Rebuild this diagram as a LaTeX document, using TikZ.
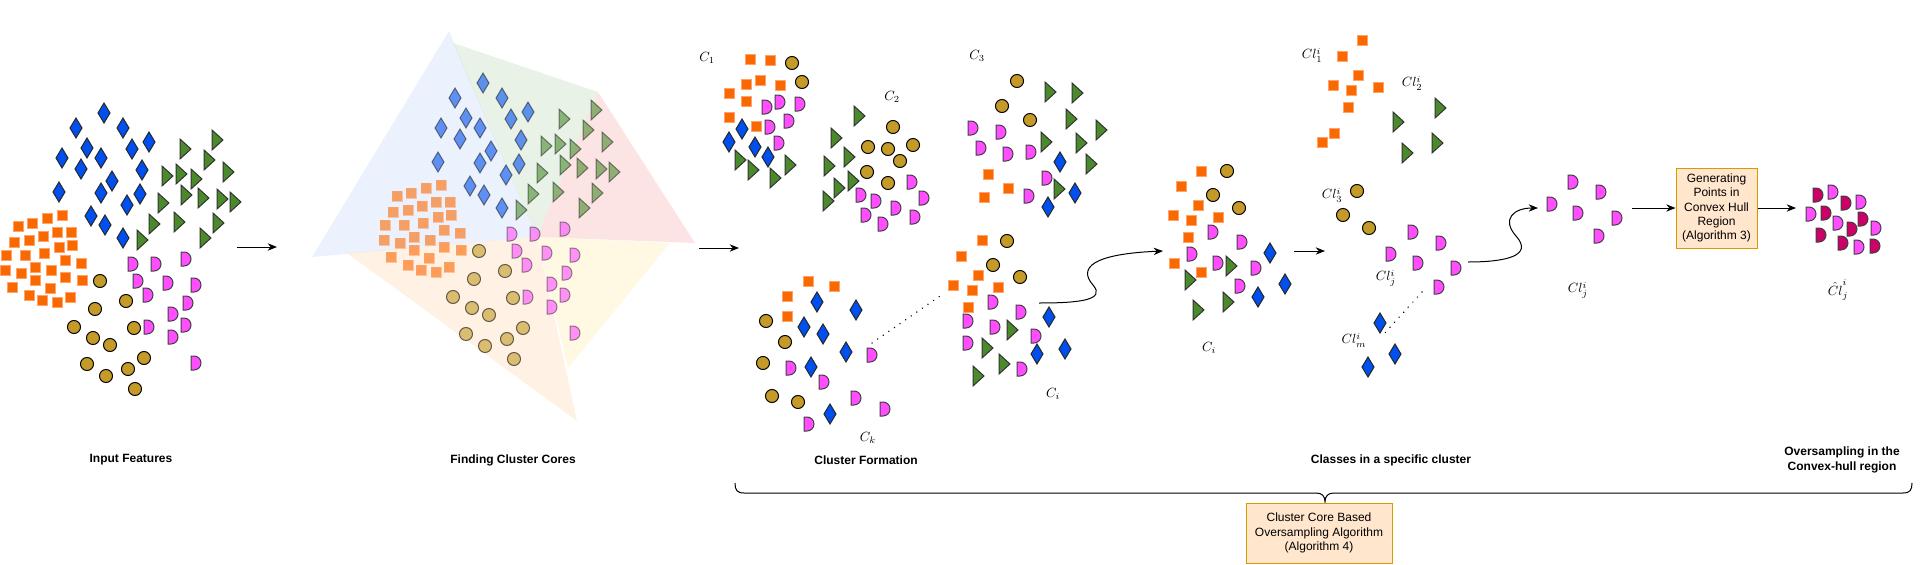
\documentclass[tikz,border=0pt]{standalone}
\usepackage{fontspec}
\setmainfont{Liberation Sans}
\usepackage{tikz}
\usetikzlibrary{arrows.meta}
\definecolor{sq_orange}{HTML}{FA6800}
\definecolor{sq_edge}{HTML}{FFA36B}
\definecolor{dia_blue}{HTML}{0050EF}
\definecolor{tri_green}{HTML}{4A8A2C}
\definecolor{dot_gold}{HTML}{C49A28}
\definecolor{half_pink}{HTML}{FF4DFF}
\definecolor{half_dark}{HTML}{CC0066}
\definecolor{box_fill}{HTML}{FFE6CC}
\definecolor{box_edge}{HTML}{D79B00}
\definecolor{core_blue}{HTML}{DAE8FC}
\definecolor{core_green}{HTML}{D5E8D4}
\definecolor{core_red}{HTML}{F8CECC}
\definecolor{core_yellow}{HTML}{FFF2CC}
\definecolor{core_orange}{HTML}{FFE6CC}

\tikzset{
  sqr/.pic={\draw[sq_edge, fill=sq_orange, line width=0.75pt] (-5,-5) rectangle (5,5);},
  dmd/.pic={\draw[black!85, fill=dia_blue, line width=0.75pt] (0,-10) -- (6,0) -- (0,10) -- (-6,0) -- cycle;},
  trg/.pic={\draw[black!80, fill=tri_green, line width=0.75pt] (-5,-10) -- (6,0) -- (-5,10) -- cycle;},
  crc/.pic={\draw[black, fill=dot_gold, line width=0.75pt] (0,0) circle[radius=4.9pt];},
  hlf/.pic={\draw[black!75, fill=half_pink, line width=0.75pt] (-5,-7) -- (-2,-7) .. controls (1.9,-7) and (5,-3.9) .. (5,0) .. controls (5,3.9) and (1.9,7) .. (-2,7) -- (-5,7) -- cycle;},
  hlfdk/.pic={\draw[black!75, fill=half_dark, line width=0.75pt] (-5,-7) -- (-2,-7) .. controls (1.9,-7) and (5,-3.9) .. (5,0) .. controls (5,3.9) and (1.9,7) .. (-2,7) -- (-5,7) -- cycle;},
  arr/.style={-{Stealth[length=7pt,width=5.5pt]}, line width=0.75pt},
  dotline/.style={line width=1.1pt, dash pattern=on 0.1pt off 5pt, line cap=round},
  stage/.style={font=\fontsize{9}{11.25}\selectfont\bfseries, align=center},
  algobox/.style={draw=box_edge, fill=box_fill, line width=0.75pt, align=center, inner sep=1pt, font=\fontsize{9}{10.6}\selectfont}
}

% the raw feature cloud (input panel, reused for the cores panel)
\newcommand{\featurecloud}{%
  \foreach \x/\y in {104/113, 76/128, 123/128, 87/148, 132/149, 149/142, 62/158, 101/158, 81/169, 142/170, 112/181, 59/192, 101/193, 140/194, 127/205, 91/216, 105/225, 123/238}
    \pic at (\x,\y) {dmd};
  \foreach \x/\y in {185/149, 217/140, 209/160, 228/172, 167/176, 181/174, 196/179, 163/203, 186/195, 203/198, 222/199, 235/202, 154/224, 179/222, 218/223, 142/240, 205/238}
    \pic at (\x,\y) {trg};
  \foreach \x/\y in {62/215, 18/226, 32/223, 47/218, 14/242, 29/240, 43/236, 57/232, 71/232, 59/247, 72/245, 6/255, 25/255, 44/253, 65/260, 81/263, 5/270, 21/273, 35/267, 51/270, 65/277, 82/280, 12/287, 35/280, 50/288, 29/295, 42/300, 57/302, 70/297}
    \pic at (\x,\y) {sqr};
  \foreach \x/\y in {100/281, 126/301, 95/309, 74/327, 134/328, 93/338, 110/345, 144/358, 87/364, 128/369, 106/376, 135/389}
    \pic at (\x,\y) {crc};
  \foreach \x/\y in {133/264, 156/264, 186/259, 138/281, 168/283, 196/285, 148/295, 188/303, 173/314, 186/325, 149/327, 173/337, 196/363}
    \pic at (\x,\y) {hlf};
}

\begin{document}
\begin{tikzpicture}[x=0.75pt, y=-0.75pt]
  \useasboundingbox (0,0) rectangle (1924,564);

  % input features
  \featurecloud

  % cluster cores
  \fill[core_blue, fill opacity=0.55] (449,31) -- (312,257) -- (537,237) -- cycle;
  \fill[core_green, fill opacity=0.55] (453,43) -- (598,92) -- (537,237) -- cycle;
  \fill[core_red, fill opacity=0.55] (598,92) -- (695,243) -- (537,237) -- cycle;
  \fill[core_yellow, fill opacity=0.55] (537,237) -- (670,243) -- (568,368) -- cycle;
  \fill[core_orange, fill opacity=0.55] (347,253) -- (537,237) -- (577,421) -- cycle;
  \begin{scope}[shift={(379,-30)}, opacity=0.6]
    \featurecloud
  \end{scope}

  % cluster formation
  \foreach \x/\y in {750/59, 770/60, 746/84, 760/80, 780/85, 729/93, 746/101, 729/117, 756/126,
                     988/174, 1008/188, 984/197,
                     808/281, 834/286, 787/296, 787/316,
                     982/240, 961/256, 978/275, 953/285, 972/290, 998/287, 968/307}
    \pic at (\x,\y) {sqr};
  \foreach \x/\y in {792/63, 802/82,
                     893/127, 868/147, 888/149, 913/145, 900/161, 867/172, 888/183,
                     1017/81, 1002/106, 1030/120,
                     766/321, 785/342, 763/363, 772/396, 798/402,
                     1007/241, 993/265, 1020/277}
    \pic at (\x,\y) {crc};
  \foreach \x/\y in {767/107, 780/102, 800/104, 789/121, 770/127, 779/143,
                     912/182, 924/198, 861/195, 876/201, 896/208, 866/215, 883/224, 915/217,
                     973/128, 1001/132, 981/148, 1008/154, 1031/152, 1047/178, 1029/196,
                     872/355, 791/368, 824/382, 856/398, 885/409, 809/424,
                     993/302, 1021/312, 968/321, 995/327, 1036/336, 968/343, 1022/369}
    \pic at (\x,\y) {hlf};
  \foreach \x/\y in {742/129, 729/142, 755/147, 768/157,
                     1060/162, 1075/193, 1048/207,
                     817/302, 856/310, 804/327, 823/334, 846/352, 811/367, 830/414,
                     1049/317, 1037/354, 1065/349}
    \pic at (\x,\y) {dmd};
  \foreach \x/\y in {740/160, 753/170, 775/178, 790/165,
                     859/116, 836/138, 849/157, 829/166, 853/181, 839/188, 828/201,
                     1050/92, 1077/93, 1071/119, 1101/130, 1046/142, 1081/143, 1091/164, 1059/189,
                     1012/330, 987/348, 1004/364, 978/376}
    \pic at (\x,\y) {trg};
  \node (c_one) at (707,58) {$C_1$};
  \node (c_two) at (892,97) {$C_2$};
  \node (c_three) at (977,56) {$C_3$};
  \node (c_k) at (868,438) {$C_k$};
  \node (c_i) at (1053,394) {$C_i$};
  \coordinate (k_dots) at (872,343);
  \coordinate (i_dots) at (940,296);
  \draw[dotline] (k_dots) -- (i_dots);

  % the chosen cluster
  \foreach \x/\y in {1201/171, 1181/186, 1198/205, 1173/215, 1191/220, 1218/217, 1188/237, 1174/263, 1201/272}
    \pic at (\x,\y) {sqr};
  \foreach \x/\y in {1227/171, 1213/195, 1239/208}
    \pic at (\x,\y) {crc};
  \foreach \x/\y in {1213/232, 1192/254, 1218/263, 1242/242, 1256/268, 1240/286}
    \pic at (\x,\y) {hlf};
  \foreach \x/\y in {1231/266, 1190/280, 1198/310, 1228/302}
    \pic at (\x,\y) {trg};
  \foreach \x/\y in {1270/253, 1285/284, 1258/297}
    \pic at (\x,\y) {dmd};
  \node (c_sel) at (1209,348) {$C_i$};

  % classes in the cluster
  \foreach \x/\y in {1362/40, 1342/56, 1358/75, 1333/85, 1351/90, 1378/87, 1348/107, 1334/133, 1322/142}
    \pic at (\x,\y) {sqr};
  \foreach \x/\y in {1398/122, 1440/108, 1407/153, 1437/143}
    \pic at (\x,\y) {trg};
  \foreach \x/\y in {1357/191, 1343/215, 1369/228}
    \pic at (\x,\y) {crc};
  \foreach \x/\y in {1413/232, 1441/243, 1391/254, 1418/263, 1456/268, 1439/287}
    \pic at (\x,\y) {hlf};
  \foreach \x/\y in {1380/323, 1395/354, 1368/367}
    \pic at (\x,\y) {dmd};
  \node (cl_one) at (1312,55) {$Cl^i_1$};
  \node (cl_two) at (1412,83) {$Cl^i_2$};
  \node (cl_three) at (1332,195) {$Cl^i_3$};
  \node (cl_j) at (1386,278) {$Cl^i_j$};
  \node (cl_m) at (1354,340) {$Cl^i_m$};
  \coordinate (j_dots) at (1422,292);
  \coordinate (m_dots) at (1383,335);
  \draw[dotline] (j_dots) -- (m_dots);

  % single class and oversampled class
  \foreach \x/\y in {1573/182, 1601/192, 1552/204, 1578/213, 1617/218, 1599/236}
    \pic at (\x,\y) {hlf};
  \node (cl_pick) at (1578,290) {$Cl^i_j$};
  \node[algobox, minimum width=60.75pt, minimum height=60pt] (gen_box) at (1716.5,208) {Generating\\Points in\\Convex Hull\\Region\\(Algorithm 3)};
  \foreach \x/\y in {1833/192, 1861/202, 1811/214, 1838/223, 1876/228, 1859/247}
    \pic at (\x,\y) {hlf};
  \foreach \x/\y in {1818/195, 1846/203, 1826/213, 1863/219, 1852/229, 1821/235, 1843/243, 1875/246}
    \pic at (\x,\y) {hlfdk};
  \node (cl_hat) at (1838,290) {$\hat{Cl}^i_j$};

  % arrows between the stages
  \coordinate (in_out) at (237,247);
  \coordinate (core_in) at (277,247);
  \coordinate (core_out) at (699,248);
  \coordinate (form_in) at (739,248);
  \coordinate (form_out) at (1039,303);
  \coordinate (sel_in) at (1163,251);
  \coordinate (sel_out) at (1294,251);
  \coordinate (cls_in) at (1325,251);
  \coordinate (cls_out) at (1468,262);
  \coordinate (pick_in) at (1538,208);
  \coordinate (pick_out) at (1632,208);
  \coordinate (hat_in) at (1796,208);
  \draw[arr] (in_out) -- (core_in);
  \draw[arr] (core_out) -- (form_in);
  \draw[arr] (form_out) .. controls (1080,303) and (1106,300) .. (1093,285) .. controls (1078,268) and (1092,254) .. (sel_in);
  \draw[arr] (sel_out) -- (cls_in);
  \draw[arr] (cls_out) .. controls (1505,262) and (1534,256) .. (1516,236) .. controls (1501,219) and (1514,208) .. (pick_in);
  \draw[arr] (pick_out) -- (gen_box.west);
  \draw[arr] (gen_box.east) -- (hat_in);

  % stage titles
  \node[stage] (t_input) at (131,460) {Input Features};
  \node[stage] (t_cores) at (513,460) {Finding Cluster Cores};
  \node[stage] (t_form) at (866,460) {Cluster Formation};
  \node[stage] (t_classes) at (1391,460) {Classes in a specific cluster};
  \node[stage] (t_over) at (1842,460) {Oversampling in the\\Convex-hull region};

  % brace and algorithm box
  \draw[line width=0.75pt] (735,483) .. controls (735,490) and (737,493) .. (744,493) -- (1316,493)
    .. controls (1322,493) and (1325,496) .. (1325,502) .. controls (1325,496) and (1328,493) .. (1334,493)
    -- (1903,493) .. controls (1910,493) and (1912,490) .. (1912,483);
  \node[algobox, minimum width=109.5pt, minimum height=45pt] (algo_box) at (1319,533) {Cluster Core Based\\Oversampling Algorithm\\(Algorithm 4)};
\end{tikzpicture}
\end{document}
